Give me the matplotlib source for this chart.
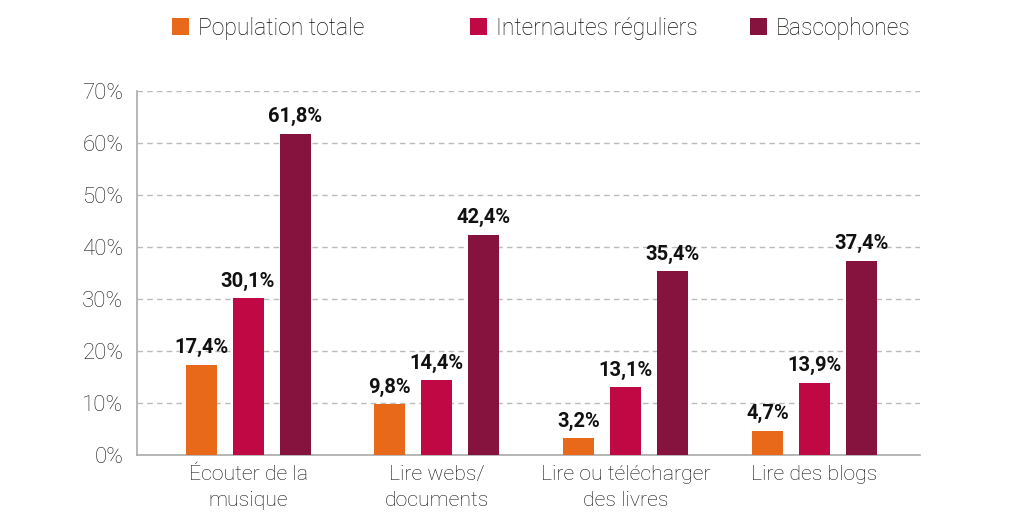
import matplotlib
matplotlib.use("Agg")
import matplotlib.pyplot as plt
import numpy as np
from matplotlib.patches import Patch

categories = ["Écouter de la\nmusique", "Lire webs/\ndocuments",
              "Lire ou télécharger\ndes livres", "Lire des blogs"]
series_names = ["Population totale", "Internautes réguliers", "Bascophones"]
population = [17.4, 9.8, 3.2, 4.7]
internautes = [30.1, 14.4, 13.1, 13.9]
bascophones = [61.8, 42.4, 35.4, 37.4]
colors = ["#E8691A", "#C00845", "#86133E"]
yticks = [0, 10, 20, 30, 40, 50, 60, 70]

plt.rcParams["font.family"] = ["Roboto", "DejaVu Sans"]

fig = plt.figure(figsize=(10.24, 5.23), dpi=100)
ax = fig.add_axes([0.134, 0.130, 0.764, 0.696])

x = np.arange(len(categories))
width = 0.164
offset = 0.249
for i, (vals, col) in enumerate(zip([population, internautes, bascophones], colors)):
    xs = x + (i - 1) * offset
    ax.bar(xs, vals, width=width, color=col, zorder=3)
    for xi, v in zip(xs, vals):
        ax.text(xi, v + 1.4, f"{v:.1f}%".replace(".", ","), ha="center", va="bottom",
                fontsize=14.5, fontweight="bold", color="#111111", zorder=4)

ax.set_xlim(-0.587, 3.556)
ax.set_ylim(0, 70)
ax.set_yticks(yticks)
ax.set_yticklabels([f"{t}%" for t in yticks], fontsize=16, fontweight="light",
                   color="#1a1a1a")
ax.set_xticks(x)
ax.set_xticklabels(categories, fontsize=15.3, fontweight="light", color="#111111",
                   linespacing=1.5)
ax.tick_params(axis="both", length=0, pad=7)
ax.tick_params(axis="y", pad=10)

ax.grid(axis="y", linestyle=(0, (4, 3)), color="#BBBBBB", linewidth=1, zorder=0)
for side in ["top", "right"]:
    ax.spines[side].set_visible(False)
for side in ["left", "bottom"]:
    ax.spines[side].set_color("#AAAAAA")
    ax.spines[side].set_linewidth(1.2)

# one single-entry legend per series so each column sits where it should
legend_x = [0.168, 0.459, 0.732]
for name, col, lx in zip(series_names, colors, legend_x):
    leg = fig.legend([Patch(facecolor=col, edgecolor="none")], [name],
                     loc="center left", bbox_to_anchor=(lx, 0.946), frameon=False,
                     prop={"size": 16.5, "weight": "light"}, labelcolor="#111111",
                     handlelength=0.75, handleheight=0.75, handletextpad=0.4,
                     borderpad=0, borderaxespad=0)

fig.savefig("out.png", dpi=100)
